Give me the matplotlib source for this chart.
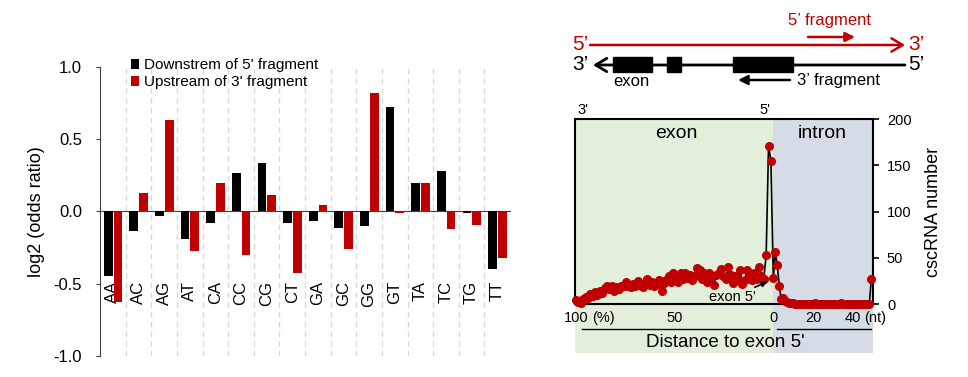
import numpy as np
import matplotlib.pyplot as plt
from matplotlib.patches import Rectangle

plt.rcParams["font.family"] = ["Liberation Sans", "DejaVu Sans"]
plt.rcParams["axes.unicode_minus"] = False

# left panel: log2 odds ratio per dinucleotide
dinucleotides = ["AA", "AC", "AG", "AT", "CA", "CC", "CG", "CT",
                 "GA", "GC", "GG", "GT", "TA", "TC", "TG", "TT"]
downstream_5p = [-0.447, -0.133, -0.034, -0.188, -0.078, 0.266, 0.337, -0.083,
                 -0.069, -0.112, -0.099, 0.722, 0.200, 0.280, -0.011, -0.401]
upstream_3p = [-0.628, 0.128, 0.631, -0.273, 0.200, -0.303, 0.115, -0.427,
               0.048, -0.257, 0.819, -0.011, 0.200, -0.119, -0.096, -0.319]

# right panel: cscRNA counts along exon (percent, 100 -> 0) and intron (nt)
exon_counts = [4, 2.5, 1, 5, 8, 7, 11, 9, 13, 10,
               14, 12, 17, 20, 16, 19, 14, 18, 16, 20,
               19, 24, 20, 18, 22, 19, 25, 21, 18, 23,
               27, 21, 24, 19, 22, 26, 14, 23, 26, 30,
               24, 34, 30, 24, 33, 27, 34, 28, 31, 26,
               30, 39, 37, 27, 33, 24, 34, 30, 21, 31,
               33, 38, 30, 27, 40, 31, 23, 30, 26, 37,
               22, 26, 37, 31, 26, 34, 27, 40, 30, 27,
               53, 171, 155, 28]
intron_counts = [56, 42, 19, 5, 6, 3, 2, 1, 1, 1,
                 0, 0, 0, 0, 0, 0, 0, 0, 0, 0,
                 1, 0, 0, 0, 0, 0, 0, 0, 0, 0,
                 0, 0, 0, 1, 0, 0, 0, 0, 0, 0,
                 0, 0, 0, 0, 0, 0, 0, 0, 27]
exon_pct = np.linspace(100, 0, len(exon_counts))
intron_nt = np.arange(1, len(intron_counts) + 1)

RED = "#C00000"
GREEN_BG = "#E2EFDA"
BLUE_BG = "#D6DCE5"
NT_SCALE = 1.0137  # plot units per intron nt

fig = plt.figure(figsize=(9.68, 3.77), dpi=100)

# ---------------- left bar chart ----------------
ax = fig.add_axes([0.1033, 0.0557, 0.4236, 0.7666])
x = np.arange(len(dinucleotides))
ax.bar(x - 0.18, downstream_5p, 0.34, color="black",
       label="Downstrem of 5' fragment", zorder=3)
ax.bar(x + 0.20, upstream_3p, 0.34, color=RED,
       label="Upstream of 3' fragment", zorder=3)
for b in x + 0.5:
    ax.axvline(b, color="#d9d9d9", lw=1.0, ls=(0, (4, 3)), zorder=1)
ax.spines["bottom"].set_position(("data", 0))
ax.spines[["top", "right"]].set_visible(False)
ax.spines["left"].set_color("#404040")
ax.spines["bottom"].set_color("#404040")
ax.set_xlim(-0.5, 15.5)
ax.set_ylim(-1, 1)
yt = [-1.0, -0.5, 0.0, 0.5, 1.0]
ax.set_yticks(yt)
ax.set_yticklabels([f"{v:.1f}" for v in yt])
ax.set_xticks(x)
ax.set_xticklabels(dinucleotides)
ax.tick_params(axis="x", length=0, pad=50, labelsize=12, labelrotation=90)
ax.tick_params(axis="y", direction="out", length=3, pad=10, labelsize=12,
               color="#404040")
ax.set_ylabel("log2 (odds ratio)", fontsize=13, labelpad=6)
ax.legend(loc="upper left", bbox_to_anchor=(0.075, 1.03), frameon=False,
          fontsize=11, handlelength=0.55, handleheight=0.55,
          handletextpad=0.3, labelspacing=0.2, borderpad=0, borderaxespad=0)

# ---------------- right profile ----------------
ax2 = fig.add_axes([0.594, 0.1936, 0.3079, 0.4907])
ax2.set_facecolor("none")
xs = np.concatenate([100 - exon_pct, 100 + intron_nt * NT_SCALE])
ys = np.concatenate([exon_counts, intron_counts])
x0, x1 = -0.51, 150.55
tr = ax2.get_xaxis_transform()
ax2.add_patch(Rectangle((x0, -0.265), 100 - x0, 1.265, transform=tr,
                        facecolor=GREEN_BG, edgecolor="none", clip_on=False, zorder=0))
ax2.add_patch(Rectangle((100, -0.265), x1 - 100, 1.265, transform=tr,
                        facecolor=BLUE_BG, edgecolor="none", clip_on=False, zorder=0))
ax2.plot(xs, ys, color="black", lw=1.2, marker="o", ms=5.5,
         mfc=RED, mec=RED, zorder=3, clip_on=False)
ax2.set_xlim(x0, x1)
ax2.set_ylim(0, 200)
ax2.yaxis.tick_right()
ax2.yaxis.set_label_position("right")
ax2.set_yticks([0, 50, 100, 150, 200])
ax2.set_xticks([0, 50, 100, 100 + 20 * NT_SCALE, 100 + 40 * NT_SCALE])
ax2.set_xticklabels(["100", "50", "0", "20", "40"])
for s in ax2.spines.values():
    s.set_linewidth(1.5)
ax2.tick_params(axis="y", direction="out", length=4, width=1.2, pad=6,
                labelsize=10.5)
ax2.tick_params(axis="x", length=0, pad=5, labelsize=10.5)
ax2.set_ylabel("cscRNA number", fontsize=13, labelpad=10)

ax2.text(13.7, -0.038, "(%)", transform=tr, ha="center", va="top", fontsize=10.5)
ax2.text(151.6, -0.038, "(nt)", transform=tr, ha="center", va="top", fontsize=10.5)
ax2.text(3.5, 1.01, "3'", transform=tr, ha="center", va="bottom", fontsize=10.5)
ax2.text(95.8, 1.01, "5'", transform=tr, ha="center", va="bottom", fontsize=10.5)
ax2.text(51, 0.924, "exon", transform=tr, ha="center", va="center", fontsize=14)
ax2.text(125, 0.924, "intron", transform=tr, ha="center", va="center", fontsize=14)
ax2.plot([3.0, 97.8], [-0.135, -0.135], transform=tr, color="black", lw=1.0, clip_on=False)
ax2.plot([101.9, 149.5], [-0.135, -0.135], transform=tr, color="black", lw=1.0, clip_on=False)
ax2.text(75.5, -0.21, "Distance to exon 5'", transform=tr, ha="center",
         va="center", fontsize=13.5)
ax2.annotate("exon 5'", xy=(97, 24), xytext=(79.1, 7.6), ha="center", va="center",
             fontsize=10.5, zorder=4,
             arrowprops=dict(arrowstyle="-|>", color="black", lw=1.2,
                             shrinkA=0, shrinkB=0, mutation_scale=8))

# ---------------- schematic on top right ----------------
axd = fig.add_axes([0, 0, 1, 1], zorder=-1)
axd.set_xlim(0, 968)
axd.set_ylim(377, 0)
axd.axis("off")
axd.text(829, 20, "5\u2019 fragment", color=RED, fontsize=12, ha="center", va="center")
axd.annotate("", xy=(855, 37), xytext=(808, 37),
             arrowprops=dict(arrowstyle="-|>", color=RED, lw=1.8,
                             mutation_scale=14, shrinkA=0, shrinkB=0))
axd.annotate("", xy=(905, 45), xytext=(590, 45),
             arrowprops=dict(arrowstyle="->, head_length=0.5, head_width=0.3",
                             color=RED, lw=1.8, mutation_scale=16, shrinkA=0, shrinkB=0))
axd.annotate("", xy=(593, 65), xytext=(905, 65),
             arrowprops=dict(arrowstyle="->, head_length=0.5, head_width=0.3",
                             color="black", lw=2, mutation_scale=16, shrinkA=0, shrinkB=0))
for bx, bw in [(613, 39), (667, 14), (733, 60)]:
    axd.add_patch(Rectangle((bx, 57), bw, 15, color="black"))
axd.text(580, 45, "5\u2019", color=RED, fontsize=15, ha="center", va="center")
axd.text(916, 45, "3\u2019", color=RED, fontsize=15, ha="center", va="center")
axd.text(580, 65, "3\u2019", color="black", fontsize=15, ha="center", va="center")
axd.text(916, 65, "5\u2019", color="black", fontsize=15, ha="center", va="center")
axd.text(631, 82, "exon", fontsize=12, ha="center", va="center")
axd.annotate("", xy=(738, 80), xytext=(790, 80),
             arrowprops=dict(arrowstyle="-|>", color="black", lw=1.8,
                             mutation_scale=14, shrinkA=0, shrinkB=0))
axd.text(797, 81, "3\u2019 fragment", fontsize=12, ha="left", va="center")

fig.savefig("out.png", dpi=100)
